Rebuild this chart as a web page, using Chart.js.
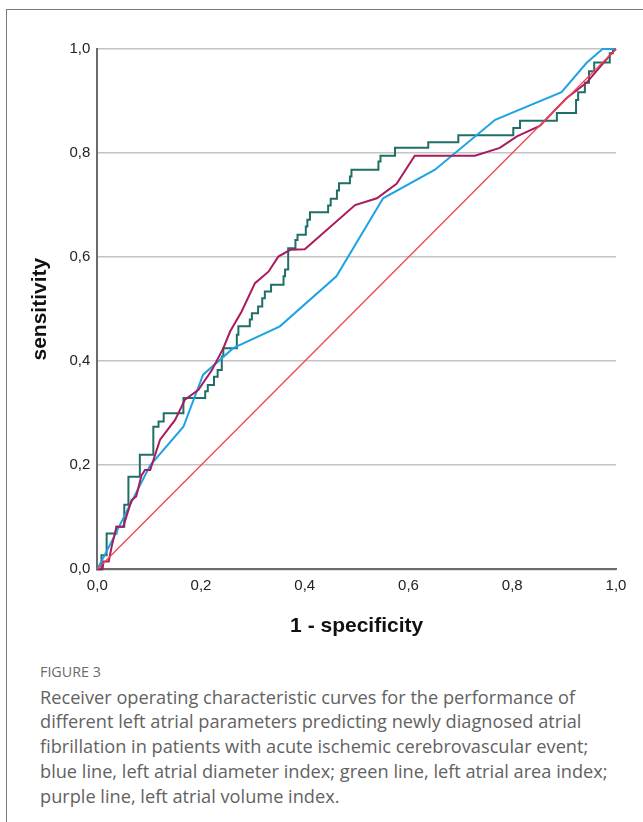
<!DOCTYPE html>
<html>
<head>
<meta charset="utf-8">
<script src="https://cdn.jsdelivr.net/npm/chart.js@4.4.1/dist/chart.umd.min.js"></script>
<style>
  html, body { margin: 0; padding: 0; background: #fff; }
  body { width: 643px; height: 822px; position: relative; overflow: hidden; }
  #frameTop { position: absolute; left: 6px; top: 9px; width: 640px; height: 0; border-top: 1px solid #7a7a7a; }
  #frameLeft { position: absolute; left: 6px; top: 9px; width: 0; height: 820px; border-left: 1px solid #7a7a7a; }
  #wrap { position: absolute; left: 0; top: 0; width: 643px; height: 650px; }
  #figLabel { position: absolute; left: 40px; top: 662px; font-family: "Open Sans", sans-serif; font-size: 14.3px; line-height: 20px; color: #6a6a6a; }
  #caption { position: absolute; left: 40px; top: 684.7px; width: 603px; font-family: "Open Sans", sans-serif; font-size: 18.2px; line-height: 24.7px; color: #626262; white-space: nowrap; }
</style>
</head>
<body>
<div id="frameTop"></div>
<div id="frameLeft"></div>
<div id="wrap"><canvas id="c" width="643" height="650"></canvas></div>
<div id="figLabel">FIGURE 3</div>
<div id="caption">Receiver operating characteristic curves for the performance of<br>different left atrial parameters predicting newly diagnosed atrial<br>fibrillation in patients with acute ischemic cerebrovascular event;<br>blue line, left atrial diameter index; green line, left atrial area index;<br>purple line, left atrial volume index.</div>
<script>
// ---- data ----
const tickLabels = ['0,0', '0,2', '0,4', '0,6', '0,8', '1,0'];

const refX = [0, 1];
const refY = [0, 1];

const blueX = [0, 0.030, 0.060, 0.102, 0.166, 0.204, 0.262, 0.352, 0.461, 0.551, 0.651, 0.767, 0.895, 0.943, 0.974, 1.0];
const blueY = [0, 0.058, 0.118, 0.200, 0.274, 0.374, 0.425, 0.467, 0.563, 0.713, 0.768, 0.864, 0.917, 0.973, 1.0, 1.0];

const purpleX = [0, 0.010, 0.012, 0.022, 0.028, 0.037, 0.050, 0.066, 0.075, 0.085, 0.092, 0.102, 0.121, 0.150, 0.169, 0.195, 0.221, 0.243, 0.256, 0.278, 0.304, 0.330, 0.349, 0.372, 0.400, 0.497, 0.539, 0.577, 0.612, 0.728, 0.776, 0.809, 0.853, 0.905, 0.943, 0.992, 1.0];
const purpleY = [0, 0.000, 0.015, 0.015, 0.045, 0.082, 0.082, 0.133, 0.140, 0.180, 0.191, 0.191, 0.249, 0.287, 0.326, 0.345, 0.383, 0.425, 0.457, 0.495, 0.550, 0.572, 0.601, 0.614, 0.615, 0.700, 0.713, 0.741, 0.795, 0.795, 0.810, 0.832, 0.852, 0.906, 0.935, 0.992, 1.0];

// green: step curve, each point = end of a horizontal run at that sensitivity
const greenX = [0, 0.008, 0.018, 0.037, 0.052, 0.060, 0.082, 0.108, 0.118, 0.128, 0.166, 0.208, 0.213, 0.225, 0.232, 0.240, 0.243, 0.269, 0.272, 0.294, 0.298, 0.310, 0.318, 0.323, 0.335, 0.359, 0.362, 0.368, 0.382, 0.386, 0.402, 0.405, 0.410, 0.445, 0.450, 0.462, 0.466, 0.487, 0.490, 0.542, 0.546, 0.574, 0.638, 0.696, 0.802, 0.815, 0.886, 0.923, 0.927, 0.940, 0.948, 0.958, 0.988, 0.994, 1.0];
const greenY = [0, 0.000, 0.027, 0.069, 0.082, 0.124, 0.178, 0.220, 0.274, 0.284, 0.300, 0.329, 0.342, 0.354, 0.370, 0.383, 0.409, 0.425, 0.451, 0.467, 0.480, 0.492, 0.505, 0.521, 0.534, 0.547, 0.563, 0.576, 0.617, 0.633, 0.643, 0.659, 0.672, 0.686, 0.699, 0.712, 0.728, 0.742, 0.755, 0.768, 0.784, 0.795, 0.810, 0.821, 0.834, 0.848, 0.862, 0.877, 0.902, 0.917, 0.935, 0.957, 0.974, 0.992, 1.0];

const zip = (xs, ys) => xs.map((x, i) => ({ x: x, y: ys[i] }));

const ctx = document.getElementById('c').getContext('2d');
new Chart(ctx, {
  type: 'scatter',
  data: {
    datasets: [
      { label: 'reference', data: zip(refX, refY), showLine: true, borderColor: '#f2444f', borderWidth: 1.3, pointRadius: 0, fill: false },
      { label: 'volume index', data: zip(purpleX, purpleY), showLine: true, borderColor: '#ab1a5c', borderWidth: 2, pointRadius: 0, fill: false },
      { label: 'diameter index', data: zip(blueX, blueY), showLine: true, borderColor: '#1ea3e4', borderWidth: 2, pointRadius: 0, fill: false },
      { label: 'area index', data: zip(greenX, greenY), showLine: true, stepped: 'after', borderColor: '#1f6f67', borderWidth: 2, pointRadius: 0, fill: false }
    ]
  },
  options: {
    responsive: false,
    animation: false,
    clip: false,
    layout: { padding: { left: 24, top: 49, right: 27, bottom: 7 } },
    plugins: { legend: { display: false }, tooltip: { enabled: false } },
    scales: {
      x: {
        type: 'linear', min: 0, max: 1,
        afterFit: (s) => { s.height = 73.7; },
        grid: { display: false, drawTicks: false },
        border: { display: true, color: '#6b6b6b', width: 2 },
        ticks: { stepSize: 0.2, padding: 8, color: '#222', font: { family: 'Liberation Sans, Arial, sans-serif', size: 15 },
                 callback: (v, i) => tickLabels[i] },
        title: { display: true, text: '1 - specificity', color: '#111', font: { family: 'Liberation Sans, Arial, sans-serif', size: 21, weight: 'bold' }, padding: { top: 4, bottom: 4 } }
      },
      y: {
        type: 'linear', min: 0, max: 1,
        afterFit: (s) => { s.width = 73.3; },
        grid: { display: true, drawTicks: false, color: '#c4c4c4', lineWidth: 1.5 },
        border: { display: true, color: '#6b6b6b', width: 2 },
        ticks: { stepSize: 0.2, padding: 7, color: '#222', font: { family: 'Liberation Sans, Arial, sans-serif', size: 15 },
                 callback: (v, i) => tickLabels[i] },
        title: { display: true, text: 'sensitivity', color: '#111', font: { family: 'Liberation Sans, Arial, sans-serif', size: 21, weight: 'bold' }, padding: { top: 4, bottom: 4 } }
      }
    }
  }
});
</script>
</body>
</html>
